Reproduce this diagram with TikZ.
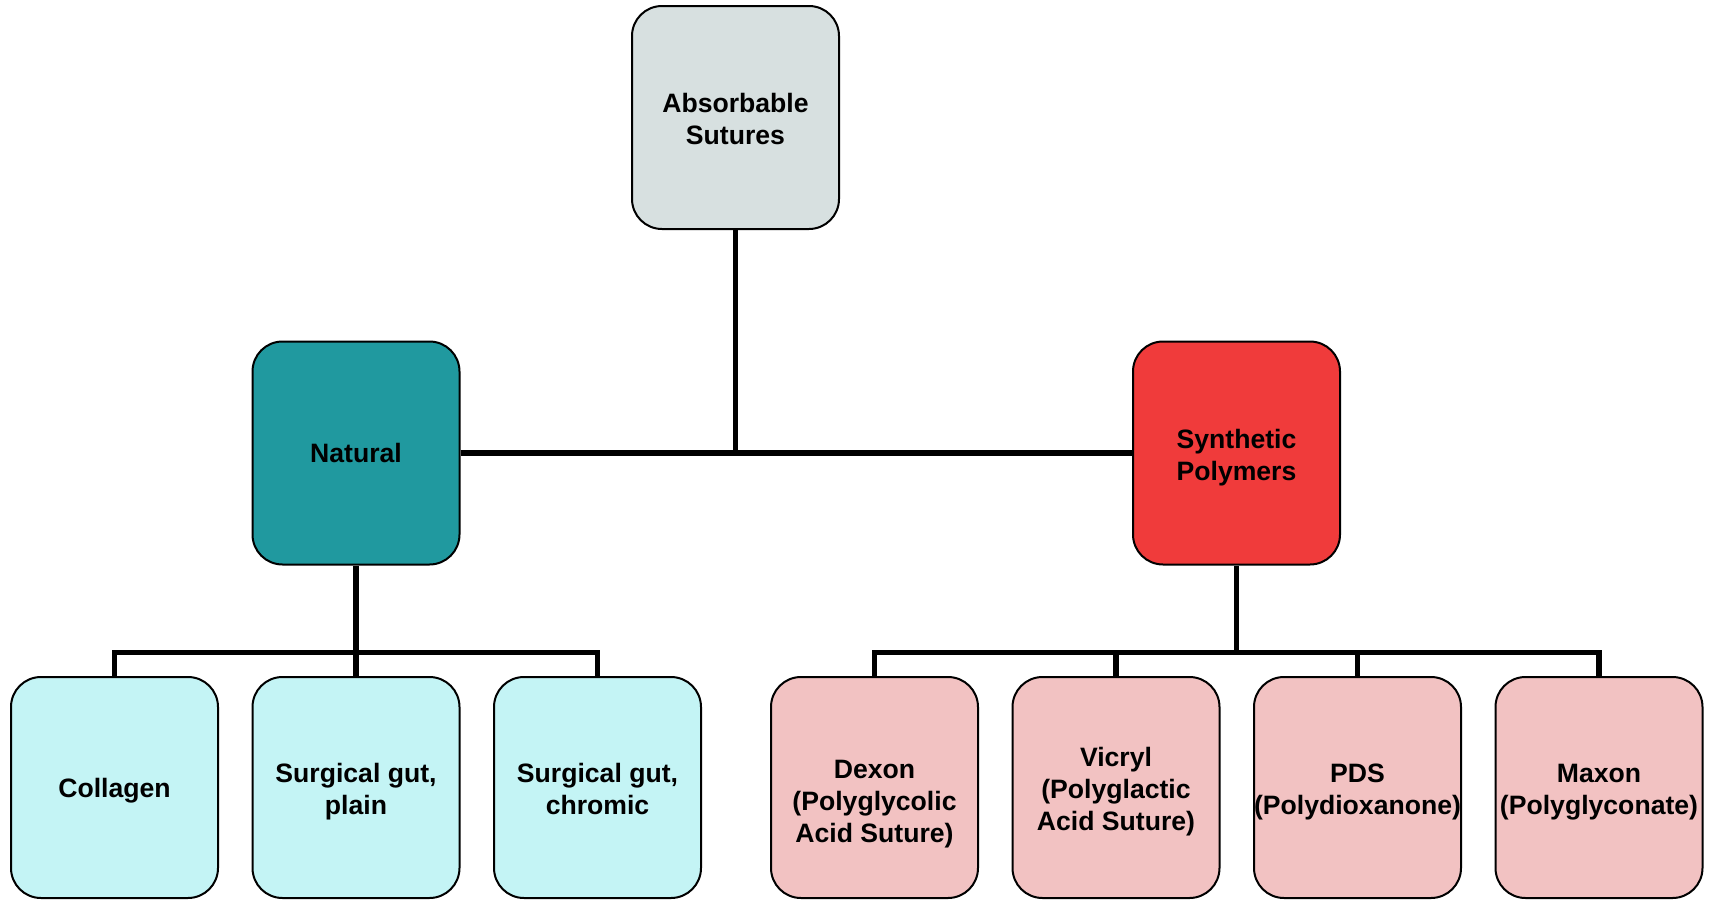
\documentclass[tikz,border=0pt]{standalone}
\usepackage{fontspec}
\setmainfont{Liberation Sans}
\usepackage{xcolor}
\usetikzlibrary{positioning}

\definecolor{rootgray}{HTML}{D7E0E0}
\definecolor{natteal}{HTML}{20999F}
\definecolor{synred}{HTML}{F03B3B}
\definecolor{natcyan}{HTML}{C4F4F5}
\definecolor{synpink}{HTML}{F2C2C2}

% struts: whole box, and first line of a multi-line box
\newcommand{\boxstrut}{\rule[-3pt]{0pt}{15.5pt}}
\newcommand{\topstrut}{\rule{0pt}{14.2pt}}

\begin{document}
\begin{tikzpicture}[
  x=0.5pt, y=-0.5pt,
  node distance=16.25pt,
  box/.style={draw=black, line width=1pt, rounded corners=15pt, align=center,
    inner sep=0pt, minimum width=103.5pt, minimum height=111.5pt,
    font=\fontsize{13.3}{16}\selectfont\bfseries\boxstrut},
  root/.style={box, fill=rootgray},
  natbox/.style={box, fill=natteal},
  synbox/.style={box, fill=synred},
  natleaf/.style={box, fill=natcyan, minimum height=110.5pt},
  synleaf/.style={box, fill=synpink, minimum height=110.5pt},
  link/.style={line width=2.75pt, black},
]
\useasboundingbox (0,0) rectangle (1709,900);

% Root
\node[root] (root) at (735.5,117.5) {\topstrut Absorbable\\Sutures};

% Two classes
\node[natbox] (natural) at (356,453) {Natural};
\node[synbox] (synthetic) at (1236.5,453) {\topstrut Synthetic\\Polymers};

% Natural sutures
\node[natleaf] (collagen) at (114.5,787.5) {Collagen};
\node[natleaf, right=of collagen] (plain) {\topstrut Surgical gut,\\plain};
\node[natleaf, right=of plain] (chromic) {\topstrut Surgical gut,\\chromic};

% Synthetic sutures
\node[synleaf] (dexon) at (874.5,787.5)
  {\rule{0pt}{26pt}Dexon\\(Polyglycolic\\Acid Suture)};
\node[synleaf, right=of dexon] (vicryl) {\topstrut Vicryl\\(Polyglactic\\Acid Suture)};
\node[synleaf, right=of vicryl] (pds) {\topstrut PDS\\(Polydioxanone)};
\node[synleaf, right=of pds] (maxon) {\topstrut Maxon\\(Polyglyconate)};

% Root to classes
\draw[link] (natural.east) -- (synthetic.west);
\draw[link] (root.south) -- (root.south |- natural.east);

% Natural branch
\draw[link] (natural.south) -- ++(0,87) coordinate (natbus);
\draw[link] (collagen.north) |- (natbus) -| (chromic.north);
\draw[link] (plain.north) -- (plain.north |- natbus);

% Synthetic branch
\draw[link] (synthetic.south) -- ++(0,87) coordinate (synbus);
\draw[link] (dexon.north) |- (synbus) -| (maxon.north);
\draw[link] (vicryl.north) -- (vicryl.north |- synbus);
\draw[link] (pds.north) -- (pds.north |- synbus);
\end{tikzpicture}
\end{document}
